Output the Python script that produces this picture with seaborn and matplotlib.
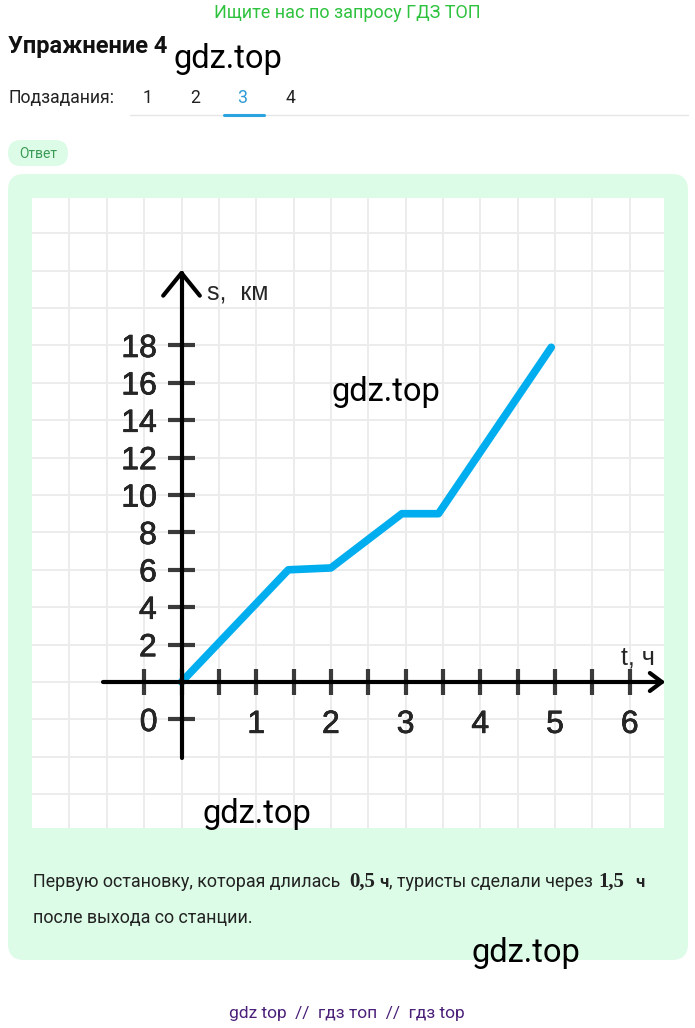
import numpy as np
import matplotlib
matplotlib.use("Agg")
import matplotlib.pyplot as plt
from matplotlib.patches import FancyBboxPatch
from matplotlib.lines import Line2D
import matplotlib.patheffects as pe
import seaborn as sns

# values: time (h) and distance (km)
hours = [0, 1.43, 2.0, 2.95, 3.44, 4.95]
distance_km = [0, 6.0, 6.1, 9.0, 9.0, 17.9]

x_tick_values = [1, 2, 3, 4, 5, 6]
x_tick_labels = ['1', '2', '3', '4', '5', '6']
y_tick_values = [-2, 2, 4, 6, 8, 10, 12, 14, 16, 18]
y_tick_labels = ['0', '2', '4', '6', '8', '10', '12', '14', '16', '18']

subtasks = ['1', '2', '3', '4']

W, H = 695, 1028
sns.set_style("white")
plt.rcParams['font.family'] = ['Roboto', 'DejaVu Sans']

fig = plt.figure(figsize=(W / 100, H / 100), dpi=100)
fig.patch.set_facecolor('white')


def fx(x):
    return x / W


def fy(y):
    return 1 - y / H


def rbox(x0, y0, x1, y1, r, color):
    p = FancyBboxPatch((x0 / 100, (H - y1) / 100), (x1 - x0) / 100, (y1 - y0) / 100,
                       boxstyle="round,pad=0,rounding_size=%f" % (r / 100),
                       transform=fig.dpi_scale_trans, fc=color, ec='none', zorder=0)
    fig.add_artist(p)


#page header
fig.text(fx(347), fy(18), 'Ищите нас по запросу ГДЗ ТОП', ha='center', va='baseline',
         fontsize=13, color='#2ec23e')
fig.text(fx(8), fy(53), 'Упражнение 4', ha='left', va='baseline', fontsize=17,
         fontweight='bold', color='#111111')
fig.text(fx(8), fy(103), 'Подзадания:', ha='left', va='baseline', fontsize=12.7, color='#222222')
for lab, xp in zip(subtasks, [148, 195, 242, 291]):
    fig.text(fx(xp), fy(103), lab, ha='center', va='baseline', fontsize=12.7,
             color='#2b9ad6' if lab == '3' else '#222222')
fig.add_artist(Line2D([fx(130), fx(688)], [fy(115), fy(115)], color='#e6e6e6', lw=1))
fig.add_artist(Line2D([fx(224), fx(264)], [fy(115), fy(115)], color='#2aa3df', lw=2.2))

rbox(8, 140, 68, 166, 13, '#dcfce7')
fig.text(fx(38), fy(158), 'Ответ', ha='center', va='baseline', fontsize=10, color='#3a9a55')

rbox(8, 174, 688, 960, 16, '#dcfce7')

#the graph
x0_px, t_px = 181.5, 74.7
y0_px, s_px = 682, 18.7
ax = fig.add_axes([fx(32), fy(828), (664 - 32) / W, (828 - 198) / H])
ax.set_facecolor('white')
ax.set_xlim((32 - x0_px) / t_px, (664 - x0_px) / t_px)
ax.set_ylim((y0_px - 828) / s_px, (y0_px - 198) / s_px)
ax.set_xticks(np.arange(-1.5, 6.3, 0.5))
ax.set_yticks(np.arange(-6, 25, 2))
ax.grid(True, color='#ececec', lw=1.4)
ax.tick_params(length=0, labelbottom=False, labelleft=False)
for sp in ax.spines.values():
    sp.set_visible(False)

sns.lineplot(x=hours, y=distance_km, ax=ax, color='#00aeef', linewidth=5.5, zorder=4)

axis_kw = dict(color='black', lw=3, solid_capstyle='round', solid_joinstyle='round', clip_on=False)
tick_kw = dict(color='#3a3a3a', lw=3, solid_capstyle='butt', clip_on=False)

# ticks
for t in np.arange(-0.5, 6.01, 0.5):
    ax.plot([t, t], [-0.68, 0.68], zorder=5, **tick_kw)
for s in y_tick_values:
    ax.plot([-0.18, 0.18], [s, s], zorder=5, **tick_kw)

# axes with arrows
ax.plot([0, 0], [-4.07, 21.87], zorder=6, **axis_kw)
ax.plot([-0.245, 0, 0.245], [20.66, 21.87, 20.66], zorder=6, **axis_kw)
ax.plot([-1.05, 6.43], [0, 0], zorder=6, **axis_kw)
ax.plot([6.27, 6.43, 6.27], [0.48, 0, -0.48], zorder=6, **axis_kw)

num_font = ['Liberation Sans', 'DejaVu Sans']
thick = [pe.withStroke(linewidth=0.45, foreground='black')]
for val, lab in zip(y_tick_values, y_tick_labels):
    if lab == '0':
        ax.text(-0.44, val - 0.62, lab, ha='center', va='baseline', fontsize=23,
                family=num_font, zorder=7, path_effects=thick)
    else:
        ax.text(-0.33, val - 0.62, lab, ha='right', va='baseline', fontsize=23,
                family=num_font, zorder=7, path_effects=thick)
for val, lab in zip(x_tick_values, x_tick_labels):
    ax.text(val, -2.72, lab, ha='center', va='baseline', fontsize=23, family=num_font,
            zorder=7, path_effects=thick)

ax.text(0.34, 20.43, 's,  км', ha='left', va='baseline', fontsize=18, family=num_font, zorder=7)
ax.text(5.89, 0.91, 't, ч', ha='left', va='baseline', fontsize=18, family=num_font, zorder=7)

#answer text
body = '#222222'
serif_bold = dict(fontsize=15, fontweight='bold', family=['Liberation Serif', 'DejaVu Serif'], color=body)
fig.text(fx(33), fy(887), 'Первую остановку, которая длилась', ha='left', va='baseline',
         fontsize=12.9, color=body)
fig.text(fx(349), fy(887), '0,5', ha='left', va='baseline', **serif_bold)
fig.text(fx(379), fy(887), 'ч', ha='left', va='baseline', fontsize=12, fontweight='bold', color=body)
fig.text(fx(389), fy(887), ', туристы сделали через', ha='left', va='baseline',
         fontsize=12.9, color=body)
fig.text(fx(598), fy(887), '1,5', ha='left', va='baseline', **serif_bold)
fig.text(fx(635), fy(887), 'ч', ha='left', va='baseline', fontsize=12, fontweight='bold', color=body)
fig.text(fx(33), fy(923), 'после выхода со станции.', ha='left', va='baseline',
         fontsize=12.9, color=body)

#watermarks
for xp, yp in [(228, 68), (386, 401), (257, 823), (526, 962)]:
    fig.text(fx(xp), fy(yp), 'gdz.top', ha='center', va='baseline', fontsize=23.5,
             color='black', zorder=10)

fig.text(fx(347), fy(1018), 'gdz top  //  гдз топ  //  гдз top', ha='center', va='baseline',
         fontsize=12.5, color='#4b2079')

fig.savefig('out.png', dpi=100)
